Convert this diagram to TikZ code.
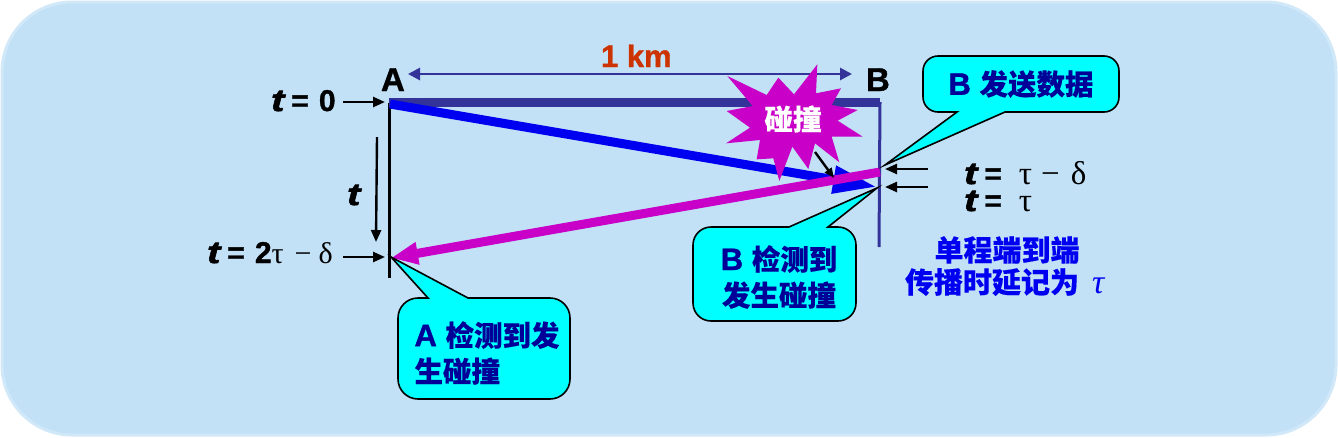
\documentclass[tikz,border=0pt]{standalone}
\usepackage{fontspec}
\usetikzlibrary{arrows.meta}
\setmainfont{Liberation Sans}[BoldFeatures={FakeBold=1.2},BoldItalicFeatures={FakeBold=2,FakeStretch=1.3}]
\newfontfamily\cjk{Noto Sans CJK SC}[BoldFeatures={FakeBold=0.25}]
\newfontfamily\ser{Liberation Serif}
\newcommand{\zh}[1]{{\cjk\bfseries #1}}
\newcommand{\tvar}{{\fontsize{31}{31}\selectfont\bfseries\itshape t}}
\newcommand{\eqs}[1]{\hspace{7pt}=\hspace{#1}}
\definecolor{bgc}{HTML}{C2E1F7}
\definecolor{link}{HTML}{333399}
\definecolor{mag}{HTML}{C800C8}
\definecolor{pure}{HTML}{0000F0}
\definecolor{navy2}{HTML}{000099}
\definecolor{kmc}{HTML}{CC3300}
\definecolor{aqua}{HTML}{00FFFF}
\tikzset{
  x=1pt,y=-1pt,
  lbl/.style={inner sep=0pt,outer sep=0pt,anchor=base west,font=\fontsize{30}{30}\selectfont\bfseries},
  calltext/.style={inner sep=0pt,outer sep=0pt,text=navy2,font=\fontsize{31}{36}\selectfont\bfseries},
  callout/.style={draw=black,line width=1.6pt,fill=aqua,line join=miter},
  thin arrow/.style={draw=black,line width=2.4pt,-{Triangle[length=12pt,width=10pt]}},
  span arrow/.style={draw=link,line width=2.8pt,{Triangle[length=12pt,width=12pt]}-{Triangle[length=12pt,width=12pt]}},
  dot/.style={inner sep=0pt,outer sep=0pt}
}
\begin{document}
\begin{tikzpicture}
\useasboundingbox (0,0) rectangle (1338,437);
\draw[fill=bgc,draw=white!25!bgc,line width=3pt,rounded corners=70pt] (2,2) rectangle (1336,435);

% named points
\coordinate (A0) at (389,103);
\coordinate (Aend) at (389,278);
\coordinate (B0) at (880,102);
\coordinate (Bend) at (879,247);
\coordinate (Atop) at (389,102);
\coordinate (Blue0) at (390,104);
\coordinate (BlueTip) at (877,187);
\coordinate (Mag0) at (880,172);
\coordinate (MagTip) at (391,258);
\coordinate (KmL) at (408,74);
\coordinate (KmR) at (852,74);
\coordinate (T0a) at (343,102);
\coordinate (T0b) at (385,102);
\coordinate (T2a) at (343,257);
\coordinate (T2b) at (385,257);
\coordinate (Ta) at (377,137);
\coordinate (Tb) at (376,242);
\coordinate (R1a) at (928,169);
\coordinate (R1b) at (885,169);
\coordinate (R2a) at (928,187);
\coordinate (R2b) at (885,187);
\coordinate (Ca) at (815,152);
\coordinate (Cb) at (834,178);

% time lines and link
\draw[draw=black,line width=3pt] (A0) -- (Aend);
\draw[draw=link,line width=3pt] (B0) -- (Bend);
\draw[draw=link,line width=9pt] (Atop) -- (B0);
\draw[span arrow] (KmL) -- (KmR);

% signals
\draw[draw=pure,line width=9pt,-{Triangle[length=44pt,width=26pt,fill=pure]}] (Blue0) -- (BlueTip);

% star
\begin{scope}[shift={(715,55)},x=0.3333pt,y=-0.3333pt]
\fill[mag] (307,28) -- (303,115) -- (378,100) -- (350,150) -- (428,165) -- (368,197) -- (443,245) -- (350,245) -- (373,322) -- (300,265) -- (280,342) -- (232,275) -- (193,378) -- (175,310) -- (125,313) -- (135,255) -- (33,265) -- (105,218) -- (35,168) -- (113,153) -- (37,63) -- (155,120) -- (190,68) -- (237,118) -- cycle;
\end{scope}

\draw[draw=mag,line width=9pt,-{Triangle[length=27pt,width=21pt,fill=mag]}] (Mag0) -- (MagTip);
\draw[thin arrow,-{Triangle[length=10pt,width=8pt]}] (Ca) -- (Cb);
\node[dot,text=white,font=\fontsize{28.5}{28.5}\selectfont\bfseries] (star) at (793,119) {\zh{碰撞}};

% thin arrows
\draw[thin arrow] (T0a) -- (T0b);
\draw[thin arrow] (T2a) -- (T2b);
\draw[thin arrow] (Ta) -- (Tb);
\draw[thin arrow] (R1a) -- (R1b);
\draw[thin arrow] (R2a) -- (R2b);

% labels
\node[lbl,font=\fontsize{33}{33}\selectfont\bfseries] (Alab) at (381,91) {A};
\node[lbl,font=\fontsize{33}{33}\selectfont\bfseries] (Blab) at (866,91) {B};
\node[lbl,text=kmc,font=\fontsize{31}{31}\selectfont\bfseries] (km) at (601,67) {1 km};
\node[lbl] (t0) at (271,111) {\tvar\eqs{10pt}0};
\node[lbl] (t2) at (207,263) {\tvar\eqs{10pt}2{\ser\mdseries\fontsize{30}{30}\selectfont τ\hspace{11pt}−\hspace{7pt}δ}};
\node[lbl] (tt) at (347,205) {\tvar};
\node[lbl] (t3) at (964,184) {\tvar\eqs{17pt}{\ser\mdseries\fontsize{33}{33}\selectfont τ\hspace{9pt}−\hspace{11pt}δ}};
\node[lbl] (t4) at (964,211) {\tvar\eqs{17pt}{\ser\mdseries\fontsize{33}{33}\selectfont τ}};
\node[dot,text=pure,font=\fontsize{29}{36}\selectfont\bfseries] (one) at (1007,250) {\zh{单程端到端}};
\node[dot,text=pure,anchor=base west,font=\fontsize{29}{36}\selectfont] (two) at (905,293) {\zh{传播时延记为}\hspace{13pt}{\ser\itshape\fontsize{34}{34}\selectfont τ}};

% callouts
\draw[callout] (957,112) -- (885,165) -- (1005,112) [rounded corners=15pt] -- (1119,112) -- (1119,56) -- (923,56) -- (923,112) [sharp corners] -- (957,112) -- cycle;
\node[calltext] (c1) at (1021,84) {B \zh{\fontsize{28.5}{36}\selectfont 发送数据}};
\draw[callout] (789,227) -- (877,188) -- (828,227) [rounded corners=18pt] -- (856,227) -- (856,321) -- (693,321) -- (693,227) [sharp corners] -- (789,227) -- cycle;
\node[calltext,align=center] (c2) at (779,277) {B \zh{\fontsize{28.5}{36}\selectfont 检测到}\\[0pt]\zh{\fontsize{28.5}{36}\selectfont 发生碰撞}};
\draw[callout] (428,298) -- (391,257) -- (468,298) [rounded corners=20pt] -- (570,298) -- (570,399) -- (398,399) -- (398,298) [sharp corners] -- (428,298) -- cycle;
\node[calltext,align=left] (c3) at (487,353) {A \zh{\fontsize{28.5}{36}\selectfont 检测到发}\\[0pt]\zh{\fontsize{28.5}{36}\selectfont 生碰撞}};
\end{tikzpicture}
\end{document}
